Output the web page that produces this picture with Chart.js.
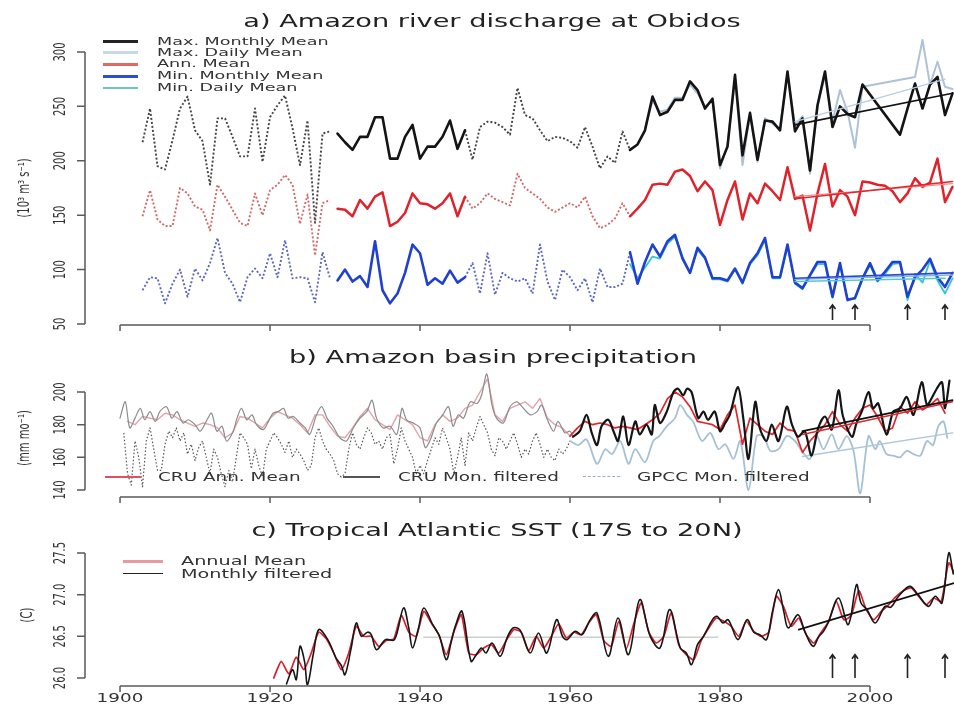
<!DOCTYPE html>
<html>
<head>
<meta charset="utf-8">
<title>Amazon discharge, basin precipitation and Tropical Atlantic SST</title>
<script src="https://cdn.jsdelivr.net/npm/chart.js@4.4.1/dist/chart.umd.min.js"></script>
<style>
  html, body { margin:0; padding:0; background:#fff; }
  #wrap { position:relative; width:954px; height:707px; overflow:hidden; font-family:"DejaVu Sans", sans-serif; color:#333; }
  canvas { position:absolute; left:0; }
  .ttl { position:absolute; white-space:nowrap; font-size:17px; line-height:20px; color:#222; transform:translateX(-50%) scaleX(1.6); }
  .lg { position:absolute; white-space:nowrap; line-height:12px; transform-origin:left center; transform:scaleX(1.6); color:#333; }
  .sw { position:absolute; height:0; }
  .yt { position:absolute; white-space:nowrap; font-size:10px; line-height:12px; color:#333; transform:translate(-50%,-50%) rotate(-90deg) scaleY(1.5); }
</style>
</head>
<body>
<div id="wrap">
  <canvas id="cA" width="954" height="340" style="top:0"></canvas>
  <canvas id="cB" width="954" height="170" style="top:340px"></canvas>
  <canvas id="cC" width="954" height="197" style="top:510px"></canvas>

  <div class="ttl" style="left:492px;top:11px">a) Amazon river discharge at Obidos</div>
  <div class="ttl" style="left:493px;top:347px">b) Amazon basin precipitation</div>
  <div class="ttl" style="left:497px;top:520px">c) Tropical Atlantic SST (17S to 20N)</div>

  <div class="yt" style="left:24px;top:188px">(10³ m³ s⁻¹)</div>
  <div class="yt" style="left:24px;top:438px">(mm mo⁻¹)</div>
  <div class="yt" style="left:27px;top:615px">(C)</div>

  <!-- legend a -->
  <div class="sw" style="left:103px;width:35px;top:40px;border-top:3px solid #222"></div>
  <div class="lg" style="left:157px;top:36px;font-size:11px">Max. Monthly Mean</div>
  <div class="sw" style="left:103px;width:35px;top:51px;border-top:3px solid #c9d8e6"></div>
  <div class="lg" style="left:157px;top:47px;font-size:11px">Max. Daily Mean</div>
  <div class="sw" style="left:103px;width:35px;top:63px;border-top:3px solid #e06a62"></div>
  <div class="lg" style="left:157px;top:58px;font-size:11px">Ann. Mean</div>
  <div class="sw" style="left:103px;width:35px;top:75px;border-top:3px solid #2d4fcf"></div>
  <div class="lg" style="left:157px;top:70px;font-size:11px">Min. Monthly Mean</div>
  <div class="sw" style="left:103px;width:35px;top:87px;border-top:2px solid #6cc6c4"></div>
  <div class="lg" style="left:157px;top:82px;font-size:11px">Min. Daily Mean</div>

  <!-- legend b -->
  <div class="sw" style="left:105px;width:36px;top:476px;border-top:2px solid #e0505e"></div>
  <div class="lg" style="left:158px;top:471px;font-size:11.5px">CRU Ann. Mean</div>
  <div class="sw" style="left:343px;width:37px;top:476px;border-top:2px solid #555"></div>
  <div class="lg" style="left:398px;top:471px;font-size:11.5px">CRU Mon. filtered</div>
  <div class="sw" style="left:583px;width:37px;top:476px;border-top:1px dashed #9fb0c0"></div>
  <div class="lg" style="left:637px;top:471px;font-size:11.5px">GPCC Mon. filtered</div>

  <!-- legend c -->
  <div class="sw" style="left:123px;width:40px;top:560px;border-top:3px solid #e79aa3"></div>
  <div class="lg" style="left:181px;top:555px;font-size:12px">Annual Mean</div>
  <div class="sw" style="left:123px;width:40px;top:573px;border-top:1.5px solid #222"></div>
  <div class="lg" style="left:181px;top:568px;font-size:12px">Monthly filtered</div>
</div>

<script>
// ---------- shared time axis ----------
const X_MIN = 1895.33;
const X_MAX = 2011.2;
const xTickYears = [1900, 1920, 1940, 1960, 1980, 2000];
const eventYears = [1995, 1998, 2005, 2010];

// ---------- a) Amazon river discharge at Obidos (10^3 m3/s), annual 1903-2011 ----------
const dischargeStart = 1903;
const maxMonthlyMean = [
  217, 248, 195, 192, 219, 248, 259, 228, 218, 178, 239, 239, 222, 204, 204, 248, 199, 240, 251, 260, 230, 196, 237, 143, 225, 227,
  225, 217, 210, 222, 222, 240, 240, 202, 202, 222, 233, 202, 213, 213, 222, 237, 211, 228,
  201, 231, 236, 235, 231, 224, 267, 242, 239, 228, 218, 222, 221, 218, 212, 231, 213, 193, 204, 198, 227,
  210, 215, 228, 259, 242, 245, 256, 256, 273, 265, 248, 257, 196, 213, 279, 205, 244, 201, 237, 236,
  228, 282, 227, 239, 191, 251, 282, 231, 250, 243, 240, 270, null, null, null, null, 224, 248, 271, 248,
  270, 277, 242, 262
];
const annualMean = [
  149, 173, 146, 140, 140, 175, 170, 158, 155, 136, 178, 167, 155, 143, 140, 170, 150, 173, 178, 187, 178, 142, 169, 113, 161, 164,
  156, 155, 149, 164, 156, 167, 171, 140, 144, 152, 170, 161, 160, 156, 161, 170, 149, 167,
  156, 161, 170, 165, 162, 159, 188, 175, 170, 165, 157, 153, 157, 161, 157, 167, 149, 138, 141, 147, 161,
  149, 156, 164, 178, 179, 178, 190, 192, 186, 172, 181, 173, 141, 164, 181, 146, 170, 161, 179, 172,
  164, 194, 165, 168, 136, 170, 197, 158, 173, 167, 150, 181, 180, 178, 177, 172, 162, 170, 184, 176,
  180, 202, 162, 176
];
const minMonthlyMean = [
  81, 93, 92, 69, 87, 100, 75, 101, 90, 106, 129, 97, 87, 70, 93, 101, 92, 115, 93, 127, 92, 93, 92, 70, 116, 92,
  90, 100, 89, 94, 84, 126, 81, 69, 78, 97, 123, 115, 86, 92, 87, 99, 88, 93,
  106, 78, 115, 77, 97, 92, 89, 92, 78, 123, 89, 72, 100, 93, 81, 92, 70, 101, 84, 84, 87,
  116, 87, 107, 123, 112, 126, 132, 110, 97, 120, 111, 92, 92, 90, 101, 88, 106, 115, 129, 93,
  93, 123, 88, 83, 95, 107, 107, 75, 106, 72, 74, 92, 106, 90, 98, 107, 107, 75, 93, 100,
  110, 93, 84, 97
];
const maxDailyStart = 1970;
const maxDailyMean = [
  230, 255, 245, 247, 258, 258, 270, 262, 250, 255, 193, 215, 275, 196, 243, 199, 239, 234, 230, 280,
  232, 241, 188, 250, 278, 236, 265, 245, 212, 268, null, null, null, null, null, null, 277, 311, 270, 291,
  268, 266
];
const minDailyStart = 1968;
const minDailyMean = [
  105, 92, 102, 112, 110, 124, 130, 112, 97, 118, 110, 91, 91, 89, 100, 87, 105, 113, 127, 92,
  92, 121, 87, 82, 94, 105, 105, 74, 104, 73, 73, 91, 104, 89, 96, 105, 106, 72, 96, 88,
  108, 90, 78, 92
];
const gaugedPeriods = [[1929, 1946], [1968, 2011]];
const reconstructedPeriods = [[1903, 1928], [1946, 1968]];
const trendYearsA = [1990, 2011];
const trendMaxMonthly = [233, 262];
const trendYearsDaily = [1990, 2010];
const trendMaxDaily = [236, 275];
const trendAnnual = [165, 181];
const trendAnnualAlt = [167, 179];
const trendMinMonthly = [92, 97];
const trendMinMonthlyAlt = [91, 95];
const trendMinDaily = [89, 92];
const dischargeTicks = [50, 100, 150, 200, 250, 300];

// ---------- b) Amazon basin precipitation (mm/month) ----------
const cruMonYears = [
  1900.0, 1900.7, 1901.3, 1902.0, 1902.7, 1903.3, 1904.0, 1904.7, 1905.3, 1906.2, 1906.9, 1907.6, 1908.4, 1909.1, 1910.0,
  1910.7, 1911.6, 1912.2, 1912.9, 1913.6, 1914.2, 1915.1, 1915.6, 1916.2, 1916.9, 1917.6, 1918.2, 1919.1, 1919.8, 1920.4,
  1921.1, 1921.8, 1922.4, 1923.1, 1924.0, 1924.7, 1925.3, 1926.2, 1926.9, 1927.6, 1928.4, 1929.3, 1930.2, 1931.1, 1932.0,
  1932.9, 1933.6, 1934.2, 1935.1, 1936.0, 1936.9, 1937.6, 1938.2, 1939.1, 1940.0, 1940.7, 1941.3, 1942.2, 1942.9, 1943.8,
  1944.4, 1945.1, 1945.8, 1946.7, 1947.6, 1948.2, 1948.9, 1949.6, 1950.2, 1951.1, 1952.0, 1952.9, 1953.8, 1954.7, 1955.6,
  1956.2, 1956.9, 1957.8, 1958.4, 1959.3, 1960.0, 1960.4, 1961.3, 1962.2, 1962.9, 1963.6, 1964.2, 1965.1, 1965.8, 1966.4,
  1967.1, 1967.8, 1968.7, 1969.3, 1970.2, 1970.9, 1971.3, 1972.0, 1972.9, 1973.8, 1974.4, 1975.1, 1975.6, 1976.2, 1977.1,
  1977.8, 1978.4, 1979.3, 1980.0, 1980.7, 1981.3, 1982.4, 1983.1, 1983.8, 1984.7, 1985.3, 1986.2, 1986.9, 1987.8, 1988.9,
  1989.6, 1990.4, 1991.3, 1992.2, 1993.1, 1994.0, 1994.9, 1995.8, 1996.4, 1997.6, 1998.2, 1998.9, 1999.8, 2000.4, 2001.1,
  2002.2, 2003.1, 2004.0, 2004.9, 2005.8, 2006.9, 2007.6, 2008.2, 2008.9, 2009.6, 2010.0, 2010.6
];
const cruMonValues = [
  184, 194, 178, 184, 190, 183, 188, 182, 188, 191, 184, 188, 181, 183, 180,
  176, 183, 187, 176, 179, 170, 176, 184, 190, 183, 186, 180, 177, 182, 187,
  188, 190, 184, 185, 181, 178, 174, 186, 191, 184, 179, 172, 170, 178, 184,
  188, 195, 184, 178, 179, 174, 190, 183, 181, 178, 166, 170, 181, 185, 191,
  179, 186, 184, 194, 193, 198, 211, 192, 184, 181, 191, 194, 190, 186, 188,
  192, 184, 176, 182, 175, 176, 172.6, 176, 186, 175, 167.5, 179, 183, 176, 170,
  185, 167.5, 182, 174, 180, 174, 192, 181, 188, 200, 202, 198, 202, 200, 184,
  188, 183, 188, 176, 181, 186, 203, 184, 159, 194, 178, 170, 180, 170, 191,
  180, 172.6, 176, 161, 178, 185, 177, 201, 185, 172.6, 181, 188, 200, 190, 193,
  174, 188, 190, 197, 186, 206, 192, 196, 202, 206, 190, 207
];
const cruAnnStart = 1901;
const cruAnnualMean = [
  182, 180, 185, 184, 183, 187, 186, 183, 181, 179,
  181, 180, 178, 172, 175, 185, 184, 181, 178, 184,
  188, 186, 184, 180, 175, 186, 186, 179, 173, 172,
  178, 185, 190, 183, 180, 177, 186, 183, 180, 172,
  170, 180, 186, 182, 184, 190, 192, 200, 208, 186,
  182, 190, 192, 194, 190, 196, 184, 180, 178,
  173, 178, 182, 180, 181, 180, 178, 179, 178, 177,
  180, 183, 187, 196, 200, 197, 191, 182, 181, 180,
  177, 186, 192, 168, 184, 180, 176, 174, 181, 177,
  176, 163, 170, 175, 180, 188, 180, 176, 184, 190,
  192, 185, 176, 178, 191, 187, 194, 189, 192, 196,
  187
];
const gpccEarlyStart = 1900.5;
const gpccEarlyStep = 0.5;
const gpccEarly = [
  175,
  150, 143, 170, 160, 142, 170, 178, 165, 152, 152, 168, 176, 172, 178, 170, 175, 162, 168, 158, 166,
  170, 160, 150, 165, 160, 150, 142, 152, 145, 160, 175, 172, 168, 153, 165, 155, 148, 165, 170, 175,
  172, 168, 163, 170, 160, 165, 162, 158, 152, 155, 172, 178, 170, 165, 162, 158, 150, 148, 150, 165,
  175, 168, 165, 172, 178, 175, 168, 170, 165, 172, 174, 156, 165, 178, 170, 165, 160, 150, 155, 150,
  158, 165, 172, 168, 178, 172, 165, 150, 160, 172, 155, 175, 170, 178, 185, 180, 175, 165, 161, 172,
  170, 165, 170, 175, 168, 160, 165, 162, 170, 175, 168, 160, 165, 160, 158, 165, 162, 165, 170
];
const gpccLateYears = [
  1960.0, 1961.1, 1962.2, 1963.6, 1964.7, 1965.6, 1966.7, 1967.8, 1968.7, 1970.0, 1971.1, 1971.9, 1972.9, 1974.0, 1974.7,
  1975.6, 1976.4, 1977.6, 1978.7, 1979.8, 1980.7, 1981.8, 1982.7, 1983.8, 1984.9, 1985.8, 1986.7, 1987.8, 1988.9, 1990.0,
  1990.9, 1992.0, 1992.9, 1993.8, 1994.9, 1995.8, 1996.9, 1997.8, 1998.7, 1999.8, 2000.7, 2001.3, 2002.2, 2003.1, 2004.0,
  2004.9, 2005.8, 2006.7, 2007.6, 2008.4, 2009.1, 2009.8, 2010.3
];
const gpccLateValues = [
  170, 167.5, 171, 156, 165, 162, 170, 156, 165, 157, 170, 173, 179, 184, 192,
  186, 182, 170, 175, 165, 168, 159, 170, 140, 173, 173, 164, 165, 173, 170,
  164, 159, 173, 165, 174, 165, 173, 164, 138, 173, 165, 170, 162, 161, 160,
  164, 162, 161, 170, 167.5, 179, 182, 172
];
const trendYearsB = [1991, 2011];
const trendCruMon = [176, 195];
const trendCruAnn = [174, 194];
const trendGpcc = [160.5, 175];
const precipTicks = [140, 160, 180, 200];

// ---------- c) Tropical Atlantic SST, 17S-20N (deg C) ----------
const sstMonYears = [
  1922.2, 1923.0, 1923.5, 1924.0, 1924.6, 1925.0, 1925.8, 1926.5, 1927.7, 1928.8, 1929.5, 1930.0, 1930.8, 1931.5, 1932.2,
  1933.0, 1933.5, 1934.2, 1935.4, 1936.6, 1937.8, 1938.5, 1939.0, 1939.8, 1940.5, 1941.7, 1942.6, 1943.5, 1944.2, 1944.7,
  1945.6, 1946.8, 1947.5, 1948.2, 1948.8, 1949.6, 1950.7, 1951.6, 1952.4, 1953.3, 1954.7, 1955.8, 1956.9, 1958.2, 1959.0,
  1959.6, 1960.7, 1961.6, 1962.7, 1963.6, 1965.1, 1966.4, 1967.8, 1969.3, 1970.7, 1972.0, 1973.3, 1974.7, 1975.5, 1976.2,
  1977.0, 1977.8, 1979.0, 1979.6, 1980.4, 1981.1, 1982.4, 1983.6, 1984.5, 1985.3, 1986.2, 1987.0, 1987.8, 1988.5, 1989.1,
  1990.4, 1991.3, 1992.4, 1993.2, 1993.8, 1994.4, 1995.8, 1997.1, 1998.2, 1998.8, 1999.6, 2000.7, 2002.0, 2002.8, 2003.8,
  2005.3, 2006.4, 2007.8, 2008.7, 2009.6, 2010.5, 2011.1
];
const sstMonValues = [
  25.93, 26.10, 25.98, 26.38, 26.20, 25.92, 26.30, 26.58, 26.46, 26.24, 26.15, 26.04, 26.35, 26.66, 26.50,
  26.55, 26.52, 26.34, 26.46, 26.46, 26.84, 26.60, 26.36, 26.60, 26.84, 26.64, 26.50, 26.22, 26.45, 26.62,
  26.80, 26.20, 26.28, 26.36, 26.30, 26.42, 26.26, 26.48, 26.60, 26.58, 26.30, 26.54, 26.30, 26.70, 26.50,
  26.46, 26.56, 26.52, 26.70, 26.78, 26.26, 26.72, 26.28, 26.94, 26.50, 26.36, 26.82, 26.36, 26.30, 26.16,
  26.40, 26.50, 26.70, 26.74, 26.66, 26.70, 26.46, 26.70, 26.55, 26.52, 26.46, 26.80, 27.06, 26.80, 26.60,
  26.76, 26.56, 26.38, 26.50, 26.56, 26.66, 26.96, 26.64, 27.12, 26.90, 26.82, 26.66, 26.86, 26.85, 26.98,
  27.10, 27.00, 26.86, 26.98, 26.90, 27.50, 27.25
];
const sstAnnStart = 1920.5;
const sstAnnualMean = [
  26.00, 26.20, 26.05, 26.25, 26.10, 26.30, 26.55, 26.47, 26.30, 26.10,
  26.30, 26.62, 26.50, 26.50, 26.38, 26.45, 26.47, 26.75, 26.55, 26.50,
  26.80, 26.66, 26.52, 26.28, 26.55, 26.76, 26.30, 26.28, 26.36, 26.40,
  26.30, 26.45, 26.58, 26.55, 26.33, 26.50, 26.36, 26.50, 26.65, 26.48,
  26.55, 26.52, 26.66, 26.76, 26.45, 26.38, 26.68, 26.35, 26.65, 26.90,
  26.55, 26.42, 26.50, 26.78, 26.40, 26.28, 26.22, 26.45, 26.60, 26.72,
  26.68, 26.62, 26.50, 26.68, 26.56, 26.50, 26.55, 26.98, 26.85, 26.62,
  26.72, 26.52, 26.42, 26.55, 26.68, 26.92, 26.70, 26.75, 27.05, 26.82,
  26.70, 26.80, 26.88, 26.98, 27.05, 27.08, 26.98, 26.88, 26.96, 26.92,
  27.38, 27.20
];
const sstRefYears = [1940.5, 1979.7];
const sstRefLevel = [26.49, 26.49];
const trendYearsC = [1990.5, 2011.2];
const trendSst = [26.58, 27.14];
const sstTicks = [26.0, 26.5, 27.0, 27.5];
const sstTickLabels = ['26.0', '26.5', '27.0', '27.5'];

// ---------- helpers ----------
const annualPoints = (start, vals) => vals.map((v, i) => ({ x: start + i, y: v }));
// points of one period, missing years dropped so the segment runs straight across them
const periodPoints = (start, vals, [a, b]) =>
  annualPoints(start, vals).filter(p => p.x >= a && p.x <= b && p.y !== null);
const stepPoints = (start, step, vals) => vals.map((v, i) => ({ x: start + i * step, y: v }));
const pairPoints = (xs, ys) => xs.map((x, i) => ({ x, y: ys[i] }));
const line = (data, color, width, extra) => Object.assign({
  data, borderColor: color, borderWidth: width, pointRadius: 0, fill: false, tension: 0,
  borderCapStyle: 'round', borderJoinStyle: 'round'
}, extra || {});
const dotted = { borderDash: [2, 2], borderCapStyle: 'butt' };
const byPeriod = (start, vals, periods, color, width, extra) =>
  periods.map(p => line(periodPoints(start, vals, p), color, width, extra));

// R-style axes: lines span first..last tick, rotated y labels
const rAxes = {
  id: 'rAxes',
  afterDraw(chart, args, o) {
    if (!o || !o.yTicks) return;
    const { ctx, chartArea } = chart;
    const xs = chart.scales.x, ys = chart.scales.y;
    const ax = chartArea.left, ay = chartArea.bottom;
    ctx.save();
    ctx.strokeStyle = '#5a5a5a';
    ctx.lineWidth = 1.5;
    ctx.beginPath();
    const yt = o.yTicks;
    ctx.moveTo(ax, ys.getPixelForValue(yt[0]));
    ctx.lineTo(ax, ys.getPixelForValue(yt[yt.length - 1]));
    yt.forEach(v => { const p = ys.getPixelForValue(v); ctx.moveTo(ax, p); ctx.lineTo(ax - 8, p); });
    const xt = xTickYears;
    ctx.moveTo(xs.getPixelForValue(xt[0]), ay);
    ctx.lineTo(xs.getPixelForValue(xt[xt.length - 1]), ay);
    xt.forEach(v => { const p = xs.getPixelForValue(v); ctx.moveTo(p, ay); ctx.lineTo(p, ay + 6); });
    ctx.stroke();

    ctx.fillStyle = '#333';
    ctx.font = '10px "DejaVu Sans"';
    ctx.textAlign = 'center';
    ctx.textBaseline = 'middle';
    yt.forEach((v, i) => {
      ctx.save();
      ctx.translate(ax - 24, ys.getPixelForValue(v));
      ctx.rotate(-Math.PI / 2);
      ctx.scale(1, 1.5);
      ctx.fillText(o.yLabels ? o.yLabels[i] : String(v), 0, 0);
      ctx.restore();
    });
    if (o.xLabels) {
      ctx.font = '11.5px "DejaVu Sans"';
      xt.forEach(v => {
        ctx.save();
        ctx.translate(xs.getPixelForValue(v), ay + 13);
        ctx.scale(1.6, 1);
        ctx.fillText(String(v), 0, 0);
        ctx.restore();
      });
    }
    ctx.restore();
  }
};

// upward arrows marking drought years
const eventArrows = {
  id: 'eventArrows',
  afterDatasetsDraw(chart, args, o) {
    if (!o || !o.years) return;
    const { ctx } = chart;
    const xs = chart.scales.x, ys = chart.scales.y;
    const yb = ys.getPixelForValue(o.from), yt = ys.getPixelForValue(o.to);
    ctx.save();
    ctx.strokeStyle = '#222';
    ctx.lineWidth = 1.6;
    o.years.forEach(yr => {
      const px = xs.getPixelForValue(yr);
      ctx.beginPath();
      ctx.moveTo(px, yb); ctx.lineTo(px, yt);
      ctx.moveTo(px - 3, yt + 4); ctx.lineTo(px, yt); ctx.lineTo(px + 3, yt + 4);
      ctx.stroke();
    });
    ctx.restore();
  }
};
Chart.register(rAxes, eventArrows);

function panel(id, datasets, yMin, yMax, padding, axisOpts, arrowOpts) {
  return new Chart(document.getElementById(id), {
    type: 'line',
    data: { datasets },
    options: {
      responsive: false,
      animation: false,
      devicePixelRatio: 1,
      events: [],
      layout: { padding },
      scales: {
        x: { type: 'linear', display: false, min: X_MIN, max: X_MAX },
        y: { type: 'linear', display: false, min: yMin, max: yMax }
      },
      plugins: {
        legend: { display: false },
        tooltip: { enabled: false },
        title: { display: false },
        rAxes: axisOpts,
        eventArrows: arrowOpts || {}
      }
    }
  });
}

// ---------- panel a ----------
panel('cA', [
  line(pairPoints(trendYearsA, trendMaxMonthly), '#111', 1.6),
  line(pairPoints(trendYearsDaily, trendMaxDaily), '#b9cde0', 1.4),
  line(pairPoints(trendYearsA, trendAnnual), '#e3262e', 1.5),
  line(pairPoints(trendYearsA, trendAnnualAlt), '#ee8a88', 1.3),
  line(pairPoints(trendYearsA, trendMinMonthly), '#2a49d0', 1.6),
  line(pairPoints(trendYearsA, trendMinMonthlyAlt), '#7fb0ea', 1.4),
  line(pairPoints(trendYearsDaily, trendMinDaily), '#55c8cf', 1.4),
  ...byPeriod(dischargeStart, maxMonthlyMean, gaugedPeriods, '#141414', 2.6),
  ...byPeriod(dischargeStart, maxMonthlyMean, reconstructedPeriods, '#444', 1.9, dotted),
  line(periodPoints(maxDailyStart, maxDailyMean, [1970, 2011]), '#aec2d6', 2.0),
  ...byPeriod(dischargeStart, annualMean, gaugedPeriods, '#e0222b', 2.5),
  ...byPeriod(dischargeStart, annualMean, reconstructedPeriods, '#cf6b6b', 1.9, dotted),
  ...byPeriod(dischargeStart, minMonthlyMean, gaugedPeriods, '#2040cf', 2.6),
  ...byPeriod(dischargeStart, minMonthlyMean, reconstructedPeriods, '#5d68c4', 1.9, dotted),
  line(annualPoints(minDailyStart, minDailyMean), '#35c4d6', 1.8)
], 49.08, 311.9, { left: 85, right: 0, top: 39, bottom: 15 },
  { yTicks: dischargeTicks },
  { years: eventYears, from: 53.7, to: 67.5 });

// ---------- panel b ----------
const cruMonPts = pairPoints(cruMonYears, cruMonValues);
const cruAnnPts = annualPoints(cruAnnStart, cruAnnualMean);
panel('cB', [
  line(pairPoints(trendYearsB, trendCruMon), '#111', 1.8),
  line(pairPoints(trendYearsB, trendCruAnn), '#d42a30', 1.4),
  line(cruMonPts.filter(p => p.x >= 1960.4), '#151515', 2.2, { tension: 0.3 }),
  line(cruAnnPts.filter(p => p.x >= 1960), '#e3242b', 1.7),
  line(cruMonPts.filter(p => p.x <= 1960.4), '#8c8c8c', 1.2, { tension: 0.3 }),
  line(cruAnnPts.filter(p => p.x <= 1960), '#e2a3ab', 1.4),
  line(pairPoints(trendYearsB, trendGpcc), '#aec6d8', 1.4),
  line(pairPoints(gpccLateYears, gpccLateValues), '#a6c1d5', 1.8, { tension: 0.3 }),
  line(stepPoints(gpccEarlyStart, gpccEarlyStep, gpccEarly), '#555', 1.2, { borderDash: [1.5, 2], borderCapStyle: 'butt' })
], 135.71, 213.47, { left: 85, right: 0, top: 30, bottom: 13 },
  { yTicks: precipTicks });

// ---------- panel c ----------
panel('cC', [
  line(pairPoints(trendYearsC, trendSst), '#111', 1.7),
  line(pairPoints(sstMonYears, sstMonValues), '#161616', 1.6, { tension: 0.35 }),
  line(stepPoints(sstAnnStart, 1, sstAnnualMean), '#d6202c', 1.7, { tension: 0.2 }),
  line(pairPoints(sstRefYears, sstRefLevel), '#c9d2c9', 1.5)
], 25.904, 27.596, { left: 85, right: 0, top: 35, bottom: 21 },
  { yTicks: sstTicks, yLabels: sstTickLabels, xLabels: true },
  { years: eventYears, from: 26.0, to: 26.28 });
</script>
</body>
</html>
